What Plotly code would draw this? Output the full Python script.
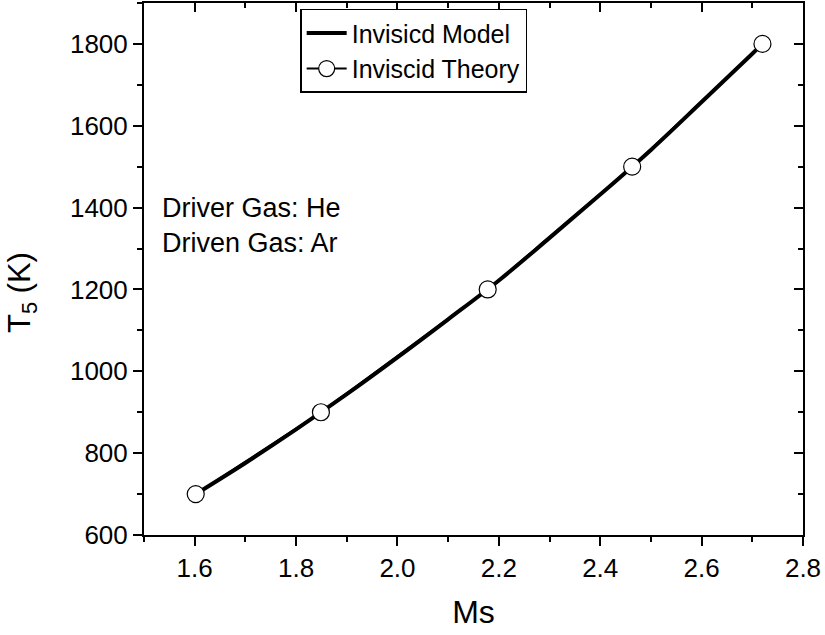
import plotly.graph_objects as go

# Model curve
model_ms = [1.602, 1.7, 1.8, 1.9, 2.0, 2.1, 2.2, 2.3, 2.4, 2.5, 2.6, 2.7, 2.72]
model_t5 = [700, 776, 858, 944, 1034, 1127, 1222, 1326, 1432, 1541, 1658, 1776, 1800]

# Theory points
theory_ms = [1.602, 1.849, 2.178, 2.463, 2.72]
theory_t5 = [700, 900, 1200, 1500, 1800]

x_ticks = [1.6, 1.8, 2.0, 2.2, 2.4, 2.6, 2.8]
y_ticks = [600, 800, 1000, 1200, 1400, 1600, 1800]

FONT = "Liberation Sans, Arial, sans-serif"

fig = go.Figure()
fig.add_trace(go.Scatter(x=model_ms, y=model_t5, mode="lines", name="Invisicd Model",
                         line=dict(color="black", width=4, shape="spline")))
fig.add_trace(go.Scatter(x=theory_ms, y=theory_t5, mode="lines+markers", name="Inviscid Theory",
                         line=dict(color="black", width=2),
                         marker=dict(symbol="circle", size=17, color="white",
                                     line=dict(color="black", width=1.2))))

# invisible trace to activate mirrored axes
fig.add_trace(go.Scatter(x=[None], y=[None], xaxis="x2", yaxis="y2", showlegend=False))

axis_common = dict(showline=True, linecolor="black", linewidth=2, showgrid=False, zeroline=False)

fig.update_layout(
    width=825, height=635,
    margin=dict(l=144, r=22, t=3, b=100),
    plot_bgcolor="white", paper_bgcolor="white",
    font=dict(family=FONT, color="black"),
    xaxis=dict(range=[1.5, 2.8], tickvals=x_ticks, ticktext=[f"{v:.1f}" for v in x_ticks],
               ticks="outside", ticklen=9, tickwidth=2, tickcolor="black",
               minor=dict(dtick=0.1, tick0=1.5, ticks="outside", ticklen=5, tickwidth=2, tickcolor="black"),
               tickfont=dict(size=26), title=dict(text="Ms", font=dict(size=32), standoff=18),
               **axis_common),
    yaxis=dict(range=[600, 1900], tickvals=y_ticks,
               ticks="outside", ticklen=9, tickwidth=2, tickcolor="black",
               minor=dict(dtick=100, tick0=600, ticks="outside", ticklen=5, tickwidth=2, tickcolor="black"),
               tickfont=dict(size=26),
               **axis_common),
    xaxis2=dict(range=[1.5, 2.8], overlaying="x", side="top", tickvals=x_ticks, showticklabels=False,
                ticks="inside", ticklen=9, tickwidth=2, tickcolor="black",
                minor=dict(dtick=0.1, tick0=1.5, ticks="inside", ticklen=5, tickwidth=2, tickcolor="black"),
                **axis_common),
    yaxis2=dict(range=[600, 1900], overlaying="y", side="right", tickvals=y_ticks, showticklabels=False,
                ticks="inside", ticklen=9, tickwidth=2, tickcolor="black",
                minor=dict(dtick=100, tick0=600, ticks="inside", ticklen=5, tickwidth=2, tickcolor="black"),
                **axis_common),
    legend=dict(x=0.237, y=0.989, xanchor="left", yanchor="top",
                bgcolor="white", bordercolor="black", borderwidth=1.5,
                font=dict(size=25), itemwidth=40, tracegroupgap=0),
    showlegend=True,
)

# y-axis title placed as annotation (matches reference position)
fig.add_annotation(x=-0.185, y=0.455, xref="paper", yref="paper", xanchor="center", yanchor="middle",
                   text="T<sub>5</sub> (K)", textangle=-90, showarrow=False,
                   font=dict(size=31, family=FONT, color="black"))

fig.add_annotation(x=0.025, y=0.647, xref="paper", yref="paper", xanchor="left", yanchor="top",
                   text="Driver Gas: He<br>Driven Gas: Ar", showarrow=False, align="left",
                   font=dict(size=27, family=FONT, color="black"))

fig.write_html("out.html", post_script="document.body.style.margin='0';",
               config={"displayModeBar": False})
